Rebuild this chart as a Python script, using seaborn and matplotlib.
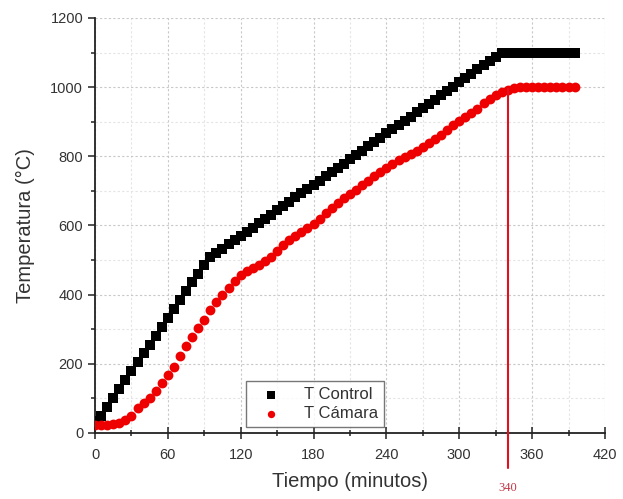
import matplotlib
matplotlib.use("Agg")
import matplotlib.pyplot as plt
from matplotlib.ticker import MultipleLocator
import pandas as pd
import seaborn as sns

tiempo = list(range(0, 400, 5))

t_control = [35, 50, 75, 100, 126, 152, 178, 204, 230, 255,
             281, 307, 333, 358, 384, 410, 436, 461, 487, 508,
             520, 533, 545, 557, 570, 582, 594, 607, 619, 631,
             644, 656, 668, 681, 693, 705, 718, 730, 742, 755,
             767, 779, 792, 804, 816, 829, 841, 853, 866, 878,
             890, 903, 915, 927, 940, 952, 964, 977, 989, 1001,
             1014, 1026, 1038, 1051, 1063, 1075, 1088, 1100, 1100, 1100,
             1100, 1100, 1100, 1100, 1100, 1100, 1100, 1100, 1100, 1100]

t_camara = [22, 22, 22, 25, 30, 38, 50, 72, 88, 102,
            120, 145, 168, 192, 222, 252, 278, 304, 328, 356,
            378, 398, 420, 440, 458, 467, 476, 487, 497, 510,
            527, 544, 558, 570, 582, 594, 605, 620, 635, 650,
            665, 678, 690, 703, 716, 730, 742, 755, 767, 778,
            788, 797, 806, 815, 826, 838, 850, 862, 876, 890,
            903, 913, 924, 938, 953, 965, 976, 986, 993, 998,
            1000, 1000, 1000, 1000, 1000, 1000, 1000, 1000, 1000, 1000]

mark_t = 340
mark_top = 995
mark_bottom = -100
mark_label_y = -160

df = pd.DataFrame({'Tiempo': tiempo, 'control': t_control, 'camara': t_camara})

sns.set_style('white')
plt.rcParams['font.family'] = ['Liberation Sans', 'DejaVu Sans']

fig = plt.figure(figsize=(6.23, 4.99), dpi=100)
ax = fig.add_axes([0.1525, 0.1323, 0.8185, 0.8317])

sns.scatterplot(data=df, x='Tiempo', y='control', marker='s', color='black',
                s=46, linewidth=0, label='T Control', ax=ax, zorder=3)
sns.scatterplot(data=df, x='Tiempo', y='camara', marker='o', color='#ee0000',
                s=50, linewidth=0, label='T Cámara', ax=ax, zorder=3)

# vertical marker at 340 min
ax.plot([mark_t, mark_t], [mark_bottom, mark_top], color='#e01020', lw=1.5,
        clip_on=False, zorder=4)
ax.text(mark_t, mark_label_y, str(mark_t), color='#c03848', ha='center', va='center',
        fontsize=9, family=['Liberation Serif', 'DejaVu Serif'], clip_on=False)

ax.set_xlim(0, 420)
ax.set_ylim(0, 1200)
ax.xaxis.set_major_locator(MultipleLocator(60))
ax.xaxis.set_minor_locator(MultipleLocator(30))
ax.yaxis.set_major_locator(MultipleLocator(200))
ax.yaxis.set_minor_locator(MultipleLocator(100))

ax.grid(True, which='major', color='#c8c8c8', linestyle=(0, (2, 2)), lw=0.8)
ax.grid(True, which='minor', color='#e4e4e4', linestyle=(0, (2, 2)), lw=0.8)
ax.set_axisbelow(True)

sns.despine(ax=ax)
for s in ['left', 'bottom']:
    ax.spines[s].set_color('#222222')
    ax.spines[s].set_linewidth(1.3)

ax.tick_params(axis='both', which='both', colors='#222222', labelcolor='#333333',
               labelsize=10.5, width=1.1)
ax.tick_params(axis='x', which='major', direction='inout', length=8, pad=7)
ax.tick_params(axis='x', which='minor', direction='inout', length=5)
ax.tick_params(axis='y', which='major', direction='out', length=5)
ax.tick_params(axis='y', which='minor', direction='out', length=3)
ax.tick_params(left=True, bottom=True, which='both')

ax.set_xlabel('Tiempo (minutos)', fontsize=14.5, color='#333333', labelpad=7)
ax.set_ylabel('Temperatura (°C)', fontsize=14.5, color='#333333', labelpad=11)

leg = ax.legend(loc='lower left', bbox_to_anchor=(0.297, 0.014), frameon=True,
                fancybox=False, edgecolor='#555555', fontsize=12,
                handlelength=2.2, handletextpad=0.9, borderpad=0.35,
                labelspacing=0.25, markerscale=0.75, borderaxespad=0)
leg.get_frame().set_linewidth(1.0)
for t in leg.get_texts():
    t.set_color('#333333')

fig.savefig('out.png', dpi=100)
